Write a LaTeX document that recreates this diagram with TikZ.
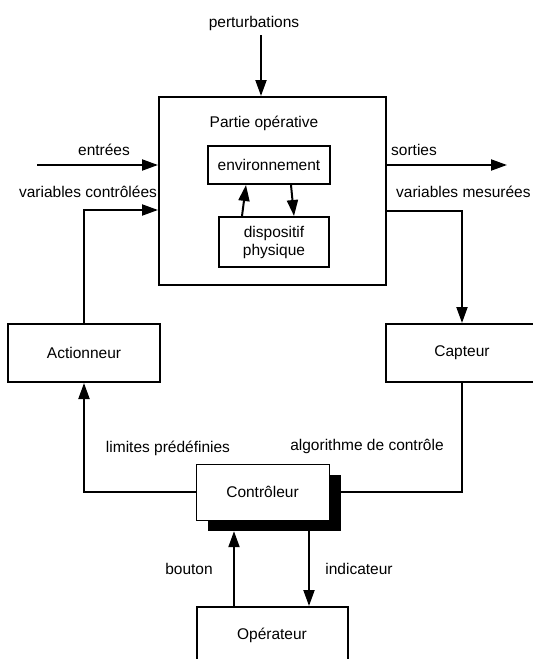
\documentclass[tikz,border=0pt]{standalone}
\usepackage{fontspec}
\setmainfont{Liberation Sans}
\usetikzlibrary{arrows.meta,calc}
\begin{document}
\begin{tikzpicture}[x=1pt,y=-1pt,
  every node/.style={font=\fontsize{15.5}{18}\selectfont},
  lbl/.style={inner sep=0pt},
  boxthick/.style={draw,line width=2pt,inner sep=0pt},
  boxthin/.style={draw,line width=0.9pt,fill=white,inner sep=0pt},
  shadowbox/.style={fill=black,inner sep=0pt,minimum width=133pt,minimum height=56pt},
  conn/.style={line width=2pt},
  arr/.style={conn,-{Triangle[length=16pt,width=11pt]}}]
\useasboundingbox (0,0) rectangle (533,659);
\clip (0,0) rectangle (533,659);
% main box
\node[boxthick,minimum width=227pt,minimum height=188pt] (po) at (272.5,191) {};
\node[lbl] (potxt) at (264,123) {Partie opérative};
\node[boxthick,minimum width=122pt,minimum height=38pt] (env) at (269,165) {environnement};
\node[boxthick,minimum width=110pt,minimum height=50pt,align=center] (disp) at (274,242) {dispositif\\physique};
\draw[arr] ([xshift=24pt]disp.north west) -- ([xshift=39pt]env.south west);
\draw[arr] ([xshift=84pt]env.south west) -- ([xshift=76pt]disp.north west);
% perturbations
\node[lbl] (ptxt) at (254,23) {perturbations};
\coordinate (pert) at (261,35);
\draw[arr] (pert) -- (pert |- po.north);
% inputs / outputs
\coordinate (inS) at (37,165);
\coordinate (outE) at (507,165);
\draw[arr] (inS) -- (inS -| po.west);
\draw[arr] ([yshift=26pt]po.east) -- (outE);
\node[lbl] (entr) at (104,150) {entrées};
\node[lbl] (varc) at (88,192) {variables contrôlées};
\node[lbl,anchor=west] (sort) at (391,150) {sorties};
\node[lbl,anchor=west] (varm) at (396,192) {variables mesurées};
% actuator / sensor
\node[boxthick,minimum width=152pt,minimum height=58pt] (act) at (84,353) {Actionneur};
\node[boxthick,minimum width=152pt,minimum height=58pt] (capt) at (462,353) {Capteur};
\draw[arr] (act.north) |- ([yshift=-19pt]po.west);
\draw[arr] ([yshift=-20pt]po.east) -| (capt.north);
% controller
\node[shadowbox] (ctrlsh) at (274.5,503) {};
\node[boxthin,minimum width=133pt,minimum height=56pt] (ctrl) at (262.5,492) {Contrôleur};
\draw[arr] (ctrl.west) -| (act.south);
\draw[conn] (ctrlsh.east |- ctrl.east) -| (capt.south);
\node[lbl] (limt) at (168,448) {limites prédéfinies};
\node[lbl] (algo) at (367,446) {algorithme de contrôle};
% operator
\node[boxthick,minimum width=151pt,minimum height=58pt] (op) at (272.5,636) {};
\node[lbl] (optxt) at (272,635) {Opérateur};
\coordinate (b1) at ([xshift=38pt]op.north west);
\coordinate (i1) at ([xshift=113pt]op.north west);
\draw[arr] (b1) -- (b1 |- ctrlsh.south);
\draw[arr] (i1 |- ctrlsh.south) -- (i1);
\node[lbl] (bout) at (189,569) {bouton};
\node[lbl] (indi) at (359,569) {indicateur};
\end{tikzpicture}
\end{document}
